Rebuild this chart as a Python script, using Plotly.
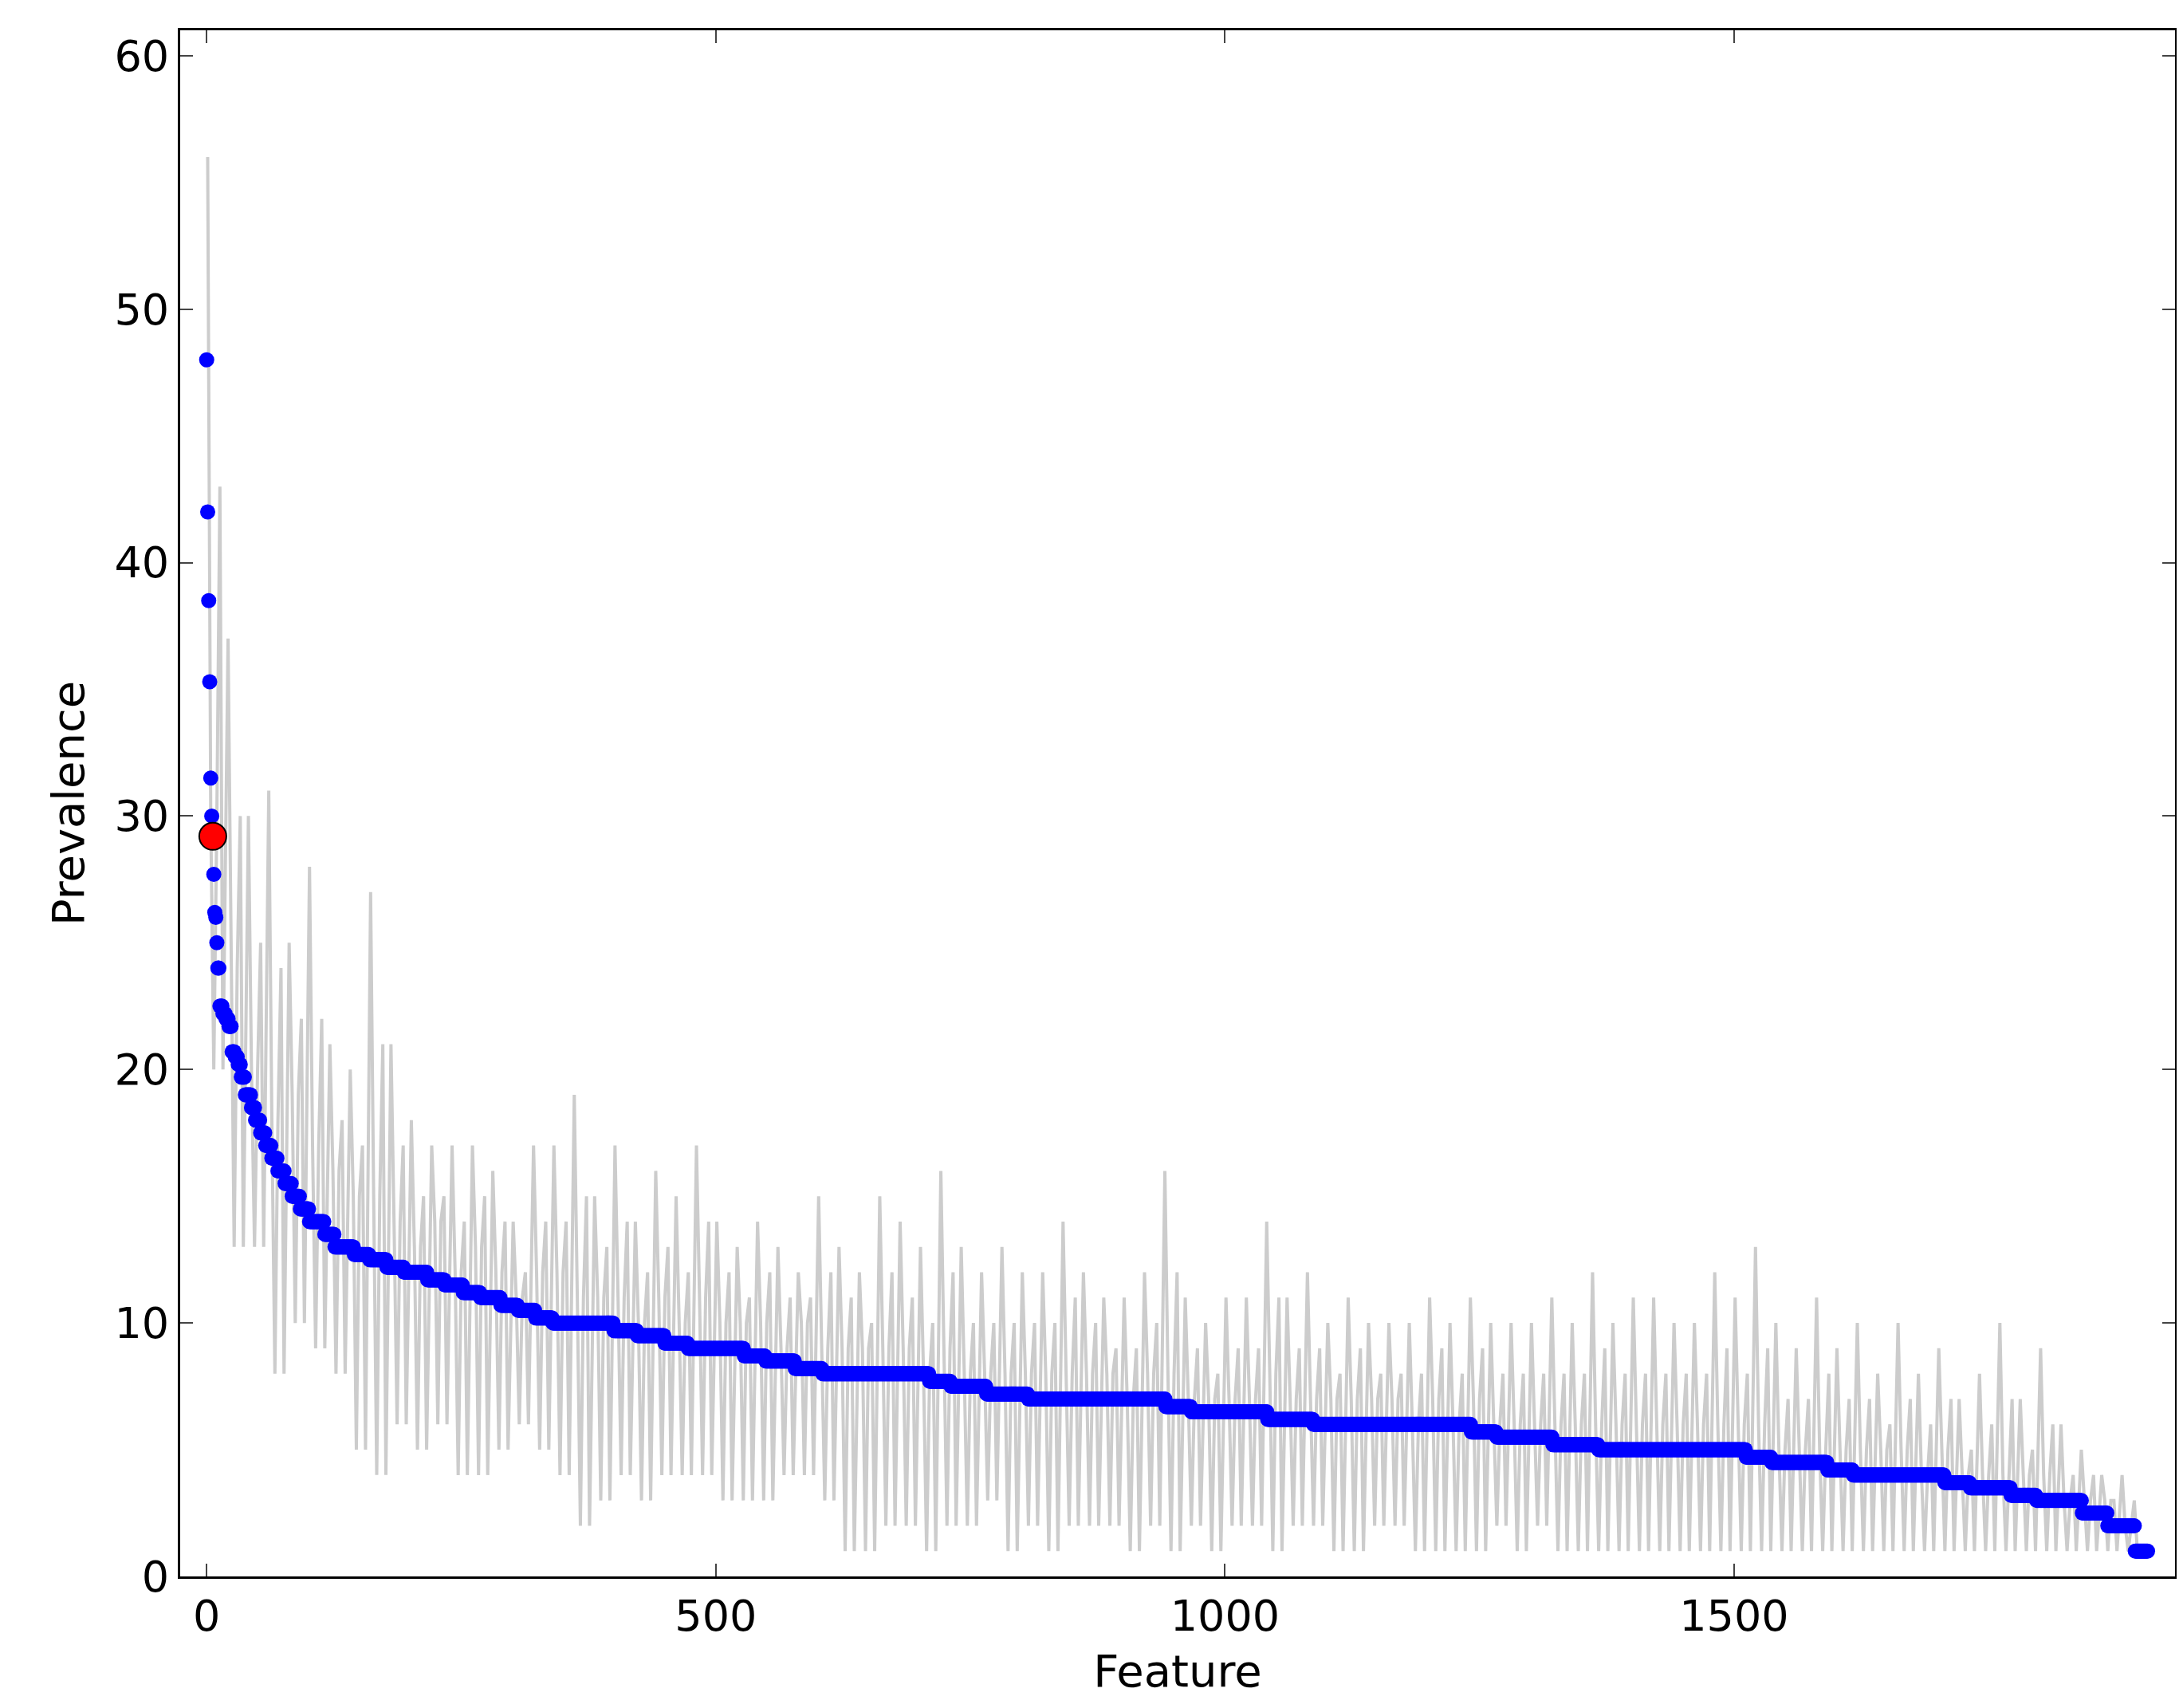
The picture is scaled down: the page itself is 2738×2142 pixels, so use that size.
import plotly.graph_objects as go

# sorted prevalence (blue): plateau values and how many features sit on each
blue_values = [48, 42, 38.5, 35.3, 31.5, 30, 29.2, 27.7, 26.2, 26, 25, 24, 22.5, 22.2, 22, 21.7,
               20.7, 20.5, 20.2, 19.7, 19, 18.5, 18, 17.5, 17, 16.5, 16, 15.5, 15, 14.5, 14, 13.5, 13,
               12.7, 12.5, 12.2, 12, 11.7, 11.5, 11.2, 11, 10.7, 10.5, 10.2, 10, 9.7, 9.5, 9.2, 9,
               8.7, 8.5, 8.2, 8, 7.7, 7.5, 7.2, 7, 6.7, 6.5, 6.2, 6, 5.7, 5.5, 5.2, 5, 4.7, 4.5,
               4.2, 4, 3.7, 3.5, 3.2, 3, 2.5, 2, 1]
blue_counts = [1, 1, 1, 1, 1, 1, 1, 1, 1, 1, 1, 2, 3, 3, 3, 3,
               3, 3, 3, 4, 6, 4, 5, 5, 6, 6, 7, 7, 8, 9, 15, 10, 19,
               15, 17, 17, 23, 17, 18, 17, 20, 17, 17, 17, 60, 23, 27, 23, 55,
               21, 29, 27, 105, 21, 35, 41, 135, 25, 75, 45, 155, 25, 55, 45, 145, 25, 55,
               25, 90, 25, 40, 25, 45, 25, 27, 13]

# unsorted prevalence (grey): high / low / middle values per block of 20 features
gray_hi = [56, 37, 30, 31, 25, 28, 21, 20, 27, 21, 18, 17, 17, 17, 16, 14, 17, 17, 19, 15,
           17, 14, 16, 15, 17, 14, 13, 14, 13, 12, 15, 13, 12, 15, 14, 13, 16, 13, 12, 13,
           12, 12, 14, 12, 11, 11, 12, 16, 11, 10, 11, 11, 14, 11, 12, 10, 11, 10, 10, 10,
           11, 10, 11, 10, 10, 10, 11, 10, 12, 10, 11, 11, 10, 10, 12, 11, 13, 10, 9, 11,
           9, 10, 8, 10, 8, 9, 7, 8, 10, 7, 9, 6, 5, 4, 4]
gray_lo = [20, 13, 13, 8, 10, 9, 8, 5, 4, 6, 5, 6, 4, 4, 5, 6, 5, 4, 2, 3,
           4, 3, 4, 4, 4, 3, 3, 3, 4, 4, 3, 1, 1, 2, 2, 1, 2, 2, 3, 1,
           2, 1, 2, 2, 2, 1, 2, 1, 2, 1, 2, 2, 1, 2, 2, 1, 1, 2, 2, 1,
           1, 1, 1, 2, 1, 2, 1, 1, 1, 1, 1, 1, 1, 1, 1, 1, 1, 1, 1, 1,
           1, 1, 1, 1, 1, 1, 1, 1, 1, 1, 1, 1, 1, 1, 1]
gray_mid = [30, 24, 20, 18, 19, 17, 16, 15, 15, 14, 13, 14, 12, 13, 12, 11, 12, 12, 11, 11,
            11, 10, 11, 10, 11, 10, 10, 10, 9, 10, 9, 9, 9, 9, 9, 8, 9, 8, 8, 8,
            8, 8, 8, 8, 8, 7, 8, 8, 7, 7, 7, 7, 8, 7, 7, 7, 7, 7, 7, 6,
            7, 6, 7, 6, 6, 6, 6, 6, 6, 6, 6, 6, 6, 6, 6, 6, 6, 5, 5, 5,
            5, 5, 5, 5, 4, 5, 4, 4, 4, 4, 4, 3, 3, 3, 2]

highlight_x = [6]
highlight_y = [29.2]

blue_y = []
for v, c in zip(blue_values, blue_counts):
    blue_y += [v] * c
blue_x = list(range(len(blue_y)))

gray_x, gray_y = [], []
for i, (h, l, m) in enumerate(zip(gray_hi, gray_lo, gray_mid)):
    gray_x += [20 * i + 1, 20 * i + 4, 20 * i + 7, 20 * i + 10, 20 * i + 13, 20 * i + 16]
    gray_y += [h, m, l, m, h * 0 + m + (h - m) // 2, l]

fig = go.Figure()
fig.add_trace(go.Scatter(x=gray_x, y=gray_y, mode="lines",
                         line=dict(color="#cccccc", width=4)))
fig.add_trace(go.Scatter(x=blue_x, y=blue_y, mode="markers",
                         marker=dict(color="blue", size=19, line=dict(width=0))))
fig.add_trace(go.Scatter(x=highlight_x, y=highlight_y, mode="markers",
                         marker=dict(color="red", size=34, line=dict(color="black", width=2))))

axis_common = dict(showgrid=False, zeroline=False, ticks="inside", ticklen=16, tickwidth=2,
                   showline=True, linecolor="black", linewidth=3, mirror="ticks",
                   tickfont=dict(size=54, color="black"))
fig.update_xaxes(range=[-26, 1933], tickvals=[0, 500, 1000, 1500],
                 title=dict(text="Feature", font=dict(size=56, color="black"), standoff=20),
                 **axis_common)
fig.update_yaxes(range=[0, 61], tickvals=[0, 10, 20, 30, 40, 50, 60],
                 title=dict(text="Prevalence", font=dict(size=56, color="black"), standoff=20),
                 **axis_common)
fig.update_layout(width=2738, height=2142, showlegend=False,
                  plot_bgcolor="white", paper_bgcolor="white",
                  font=dict(family="DejaVu Sans"),
                  margin=dict(l=218, r=18, t=30, b=173))

fig.write_html("out.html")
